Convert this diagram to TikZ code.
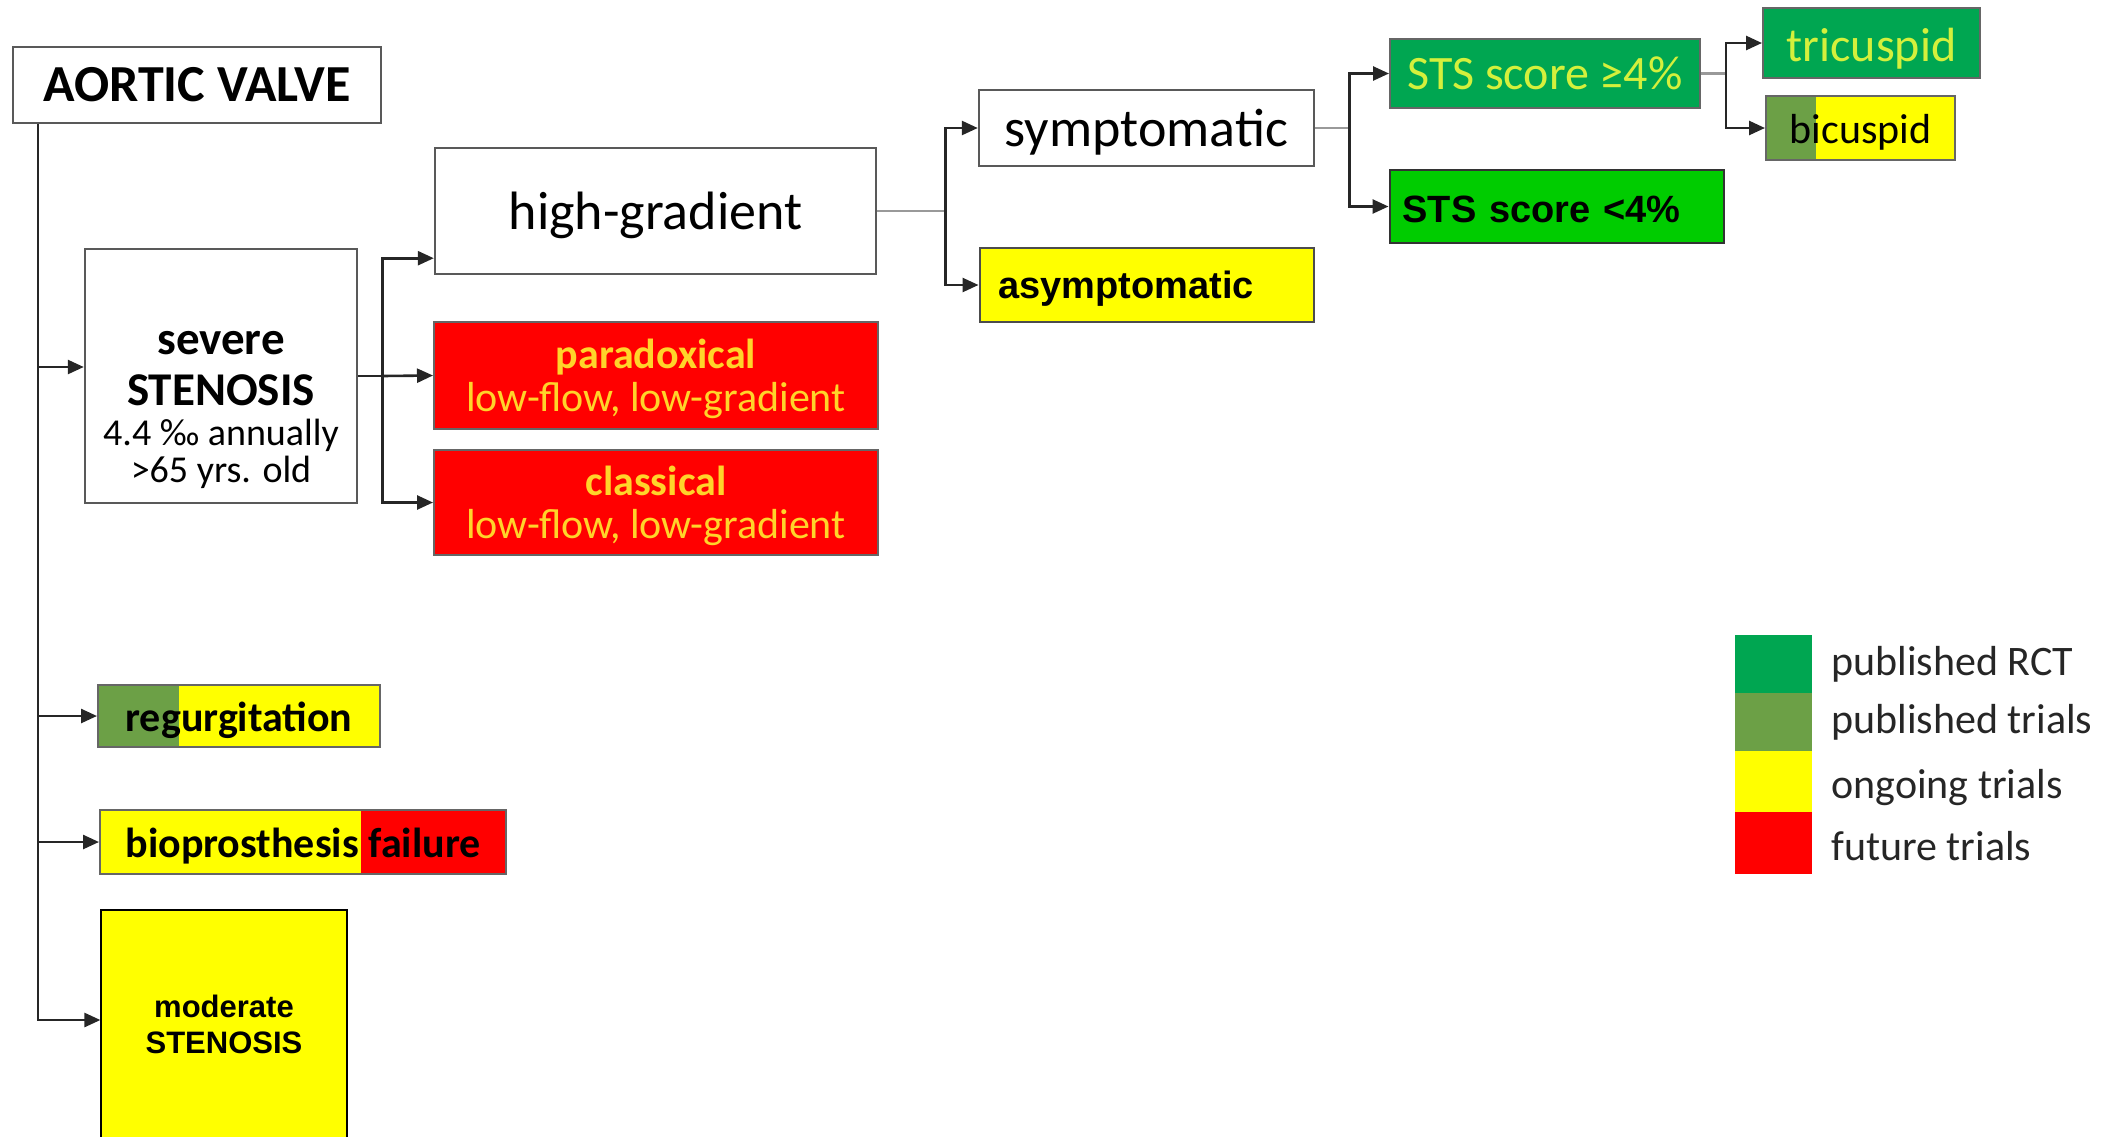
\documentclass[tikz,border=0pt]{standalone}
\usepackage{fontspec}
\setmainfont{Carlito}
\newfontfamily\arialf{Liberation Sans}
\usetikzlibrary{arrows.meta,calc}
\definecolor{dkgreen}{HTML}{00A651}
\definecolor{medgreen}{HTML}{6CA046}
\definecolor{ylw}{HTML}{FFFF00}
\definecolor{rd}{HTML}{FF0000}
\definecolor{brgreen}{HTML}{00CC00}
\definecolor{redtext}{HTML}{FFD42A}
\definecolor{limetext}{HTML}{D4F03C}
\newcommand{\fs}[1]{\fontsize{#1pt}{1.2\dimexpr#1pt\relax}\selectfont}
\newcommand{\dn}[2]{\raisebox{-#1}[\height][\depth]{#2}}
\begin{document}
\begin{tikzpicture}[x=0.5pt,y=-0.5pt,
  wbox/.style={draw=black!65, line width=1.2pt, fill=white, inner sep=0pt, text=black},
  cbox/.style={draw=black!60, line width=1pt, inner sep=0pt},
  btxt/.style={anchor=base, inner sep=0pt},
  conn/.style={line width=1.3pt, draw=black!85},
  arr/.style={conn, -{Triangle[length=8pt,width=7pt]}},
  stub/.style={line width=1.3pt, draw=black!40},
  legtext/.style={anchor=base west, inner sep=0pt, text=black!85, font=\fs{21}}]
\useasboundingbox (0,0) rectangle (2114,1136);

% main boxes
\node[wbox, minimum width=184pt, minimum height=38pt, font=\bfseries\fs{26}] (av) at (197,85) {AORTIC VALVE};

\node[wbox, minimum width=136pt, minimum height=127pt] (sev) at (221,376) {};
\node[btxt, font=\bfseries\fs{23.5}] (sev1) at (221,354) {severe};
\node[btxt, font=\bfseries\fs{23.5}] (sev2) at (221,405) {STENOSIS};
\node[btxt, font=\fs{19}] (sev3) at (221,445) {4.4 ‰ annually};
\node[btxt, font=\fs{19}] (sev4) at (221,482) {>65 yrs. old};

\node[wbox, minimum width=220.5pt, minimum height=63pt, font=\fs{27}] (hg) at (655.5,211) {\dn{2pt}{high-gradient}};

\node[cbox, fill=rd, minimum width=222pt, minimum height=53.5pt] (par) at (656,375.5) {};
\node[btxt, text=redtext, font=\bfseries\fs{21}] (par1) at (656,368) {paradoxical};
\node[btxt, text=redtext, font=\fs{21}] (par2) at (656,411) {low-flow, low-gradient};

\node[cbox, fill=rd, minimum width=222pt, minimum height=52.5pt] (cla) at (656,502.5) {};
\node[btxt, text=redtext, font=\bfseries\fs{21}] (cla1) at (656,495) {classical};
\node[btxt, text=redtext, font=\fs{21}] (cla2) at (656,538) {low-flow, low-gradient};

\node[wbox, minimum width=167.5pt, minimum height=38pt, font=\fs{27}] (sym) at (1146.5,128) {\dn{2pt}{symptomatic}};
\node[cbox, draw=black!70, fill=ylw, minimum height=37pt, text width=148pt, inner xsep=9.5pt, align=left, font=\arialf\bfseries\fs{19}] (asy) at (1146.5,285) {\dn{2pt}{asymptomatic}};
\node[cbox, fill=dkgreen, text=limetext, minimum width=155pt, minimum height=34.5pt, font=\fs{24}] (sts1) at (1545,73.5) {STS score ≥4\%};
\node[cbox, draw=black!80, fill=brgreen, minimum height=36.5pt, text width=154pt, inner xsep=6.5pt, align=left, font=\arialf\bfseries\fs{19}] (sts2) at (1556.5,206.5) {\dn{1.3pt}{STS score <4\%}};
\node[cbox, fill=dkgreen, text=limetext, minimum width=108.5pt, minimum height=35pt, font=\fs{24}] (tri) at (1871.5,43) {\dn{2.7pt}{tricuspid}};
\node[cbox, fill=ylw, minimum width=94.5pt, minimum height=32pt, font=\fs{21},
  path picture={\fill[medgreen] (path picture bounding box.north west) rectangle ([xshift=25pt]path picture bounding box.south west);}] (bi) at (1860.5,128) {\dn{2pt}{bicuspid}};
\node[cbox, fill=ylw, minimum width=141pt, minimum height=31pt, font=\bfseries\fs{21},
  path picture={\fill[medgreen] (path picture bounding box.north west) rectangle ([xshift=40.5pt]path picture bounding box.south west);}] (reg) at (239,716) {\dn{2pt}{regurgitation}};
\node[cbox, fill=ylw, minimum width=203pt, minimum height=32pt, font=\bfseries\fs{21},
  path picture={\fill[rd] ([xshift=-72.5pt]path picture bounding box.north east) rectangle (path picture bounding box.south east);}] (bio) at (303,842) {\dn{2pt}{bioprosthesis failure}};

\node[cbox, draw=black, line width=0.6pt, fill=ylw, minimum width=123pt, minimum height=115pt] (mod) at (224,1025) {};
\node[btxt, font=\arialf\bfseries\fs{15.5}] (mod1) at (224,1017) {moderate};
\node[btxt, font=\arialf\bfseries\fs{15.5}] (mod2) at (224,1053) {STENOSIS};

% connectors
\coordinate (t0) at ($(av.south west)+(26,0)$);
\coordinate (modin) at ($(mod.west)+(0,-5)$);
\coordinate (sevin) at ($(sev.west)+(0,-9)$);
\draw[arr] (t0) |- (modin);
\draw[arr] (sevin -| t0) -- (sevin);
\draw[arr] (reg.west -| t0) -- (reg.west);
\draw[arr] (bio.west -| t0) -- (bio.west);

\draw[conn] (sev.east) -- ++(24,0) coordinate (b1);
\coordinate (hgin) at ($(hg.south west)+(0,-17)$);
\draw[arr] (b1) |- (hgin);
\draw[arr] (b1) -- (par.west);
\draw[arr] (b1) |- (cla.west);

\draw[stub] (hg.east) -- ++(68,0) coordinate (b2);
\draw[arr] (b2) |- (sym.west);
\draw[arr] (b2) |- (asy.west);

\draw[stub] (sym.east) -- ++(34,0) coordinate (b3);
\draw[arr] (b3) |- (sts1.west);
\draw[arr] (b3) |- (sts2.west);

\draw[stub] (sts1.east) -- ++(25,0) coordinate (b4);
\draw[arr] (b4) |- (tri.west);
\draw[arr] (b4) |- (bi.west);

% legend
\node[fill=dkgreen, inner sep=0pt, minimum width=38.5pt, minimum height=29pt] (l1) at (1773.5,664) {};
\node[fill=medgreen, inner sep=0pt, minimum width=38.5pt, minimum height=29pt] (l2) at (1773.5,722) {};
\node[fill=ylw, inner sep=0pt, minimum width=38.5pt, minimum height=30.5pt] (l3) at (1773.5,781.5) {};
\node[fill=rd, inner sep=0pt, minimum width=38.5pt, minimum height=31pt] (l4) at (1773.5,843) {};
\node[legtext] (lt1) at (1831,675.5) {published RCT};
\node[legtext] (lt2) at (1831,733.5) {published trials};
\node[legtext] (lt3) at (1831,798.5) {ongoing trials};
\node[legtext] (lt4) at (1831,860) {future trials};
\end{tikzpicture}
\end{document}
